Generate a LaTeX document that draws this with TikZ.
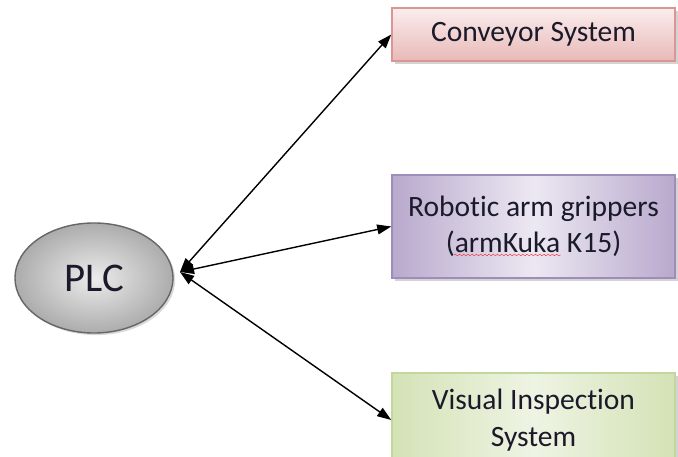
\documentclass[tikz,border=0pt]{standalone}
\usepackage{fontspec}
\setmainfont{Carlito}[Ligatures=NoCommon]
\usetikzlibrary{shapes.geometric,shadows,arrows.meta,decorations.pathmorphing}

\definecolor{convtop}{HTML}{FBEDED}
\definecolor{convbot}{HTML}{E8B9B8}
\definecolor{convline}{HTML}{D99694}
\definecolor{robdark}{HTML}{B9A9CD}
\definecolor{roblight}{HTML}{ECE8F2}
\definecolor{robline}{HTML}{A08CB9}
\definecolor{visdark}{HTML}{D4E2B6}
\definecolor{vislight}{HTML}{EEF4E3}
\definecolor{visline}{HTML}{C3D69B}
\definecolor{inktext}{HTML}{1A1A2A}

\tikzset{
  unit/.style={rectangle, draw, minimum width=7.075cm, align=center, text=inktext,
    font=\fontsize{21}{26}\selectfont,
    drop shadow={opacity=0.35, shadow xshift=2pt, shadow yshift=-2pt}},
  plc/.style={ellipse, draw=gray!80!black, minimum width=3.95cm, minimum height=2.75cm,
    inner color=gray!15, outer color=gray!65, text=inktext, font=\fontsize{29}{32}\selectfont,
    drop shadow={opacity=0.3, shadow xshift=1.5pt, shadow yshift=-1.5pt}}
}

\begin{document}
\begin{tikzpicture}[x=0.025cm, y=-0.025cm, <->, >={Triangle[length=10pt,width=7pt]}, line width=1pt]
  \useasboundingbox (0,0) rectangle (678,457);

  \node (plc) [plc] at (94,278) {PLC};
  \coordinate (hub) at (180,272);

  \node (conv) [unit, draw=convline, top color=convtop, bottom color=convbot,
    minimum height=1.325cm] at (533.5,34.5) {Conveyor System};
  \node (rob) [unit, draw=robline, left color=robdark, right color=robdark, middle color=roblight,
    minimum height=2.575cm] at (533.5,226.5) {Robotic arm grippers\\(armKuka K15)};
  \node (vis) [unit, draw=visline, left color=visdark, right color=visdark, middle color=vislight,
    minimum height=2.35cm] at (533.5,420) {Visual Inspection\\System};

  % spell-check squiggle
  \draw [-, red, very thin, decorate, decoration={snake, amplitude=0.6pt, segment length=3pt}]
    (454,255) -- (561,255);

  \path
  (hub) edge (conv.west)
  (hub) edge (rob.west)
  (hub) edge (vis.west);
\end{tikzpicture}
\end{document}
